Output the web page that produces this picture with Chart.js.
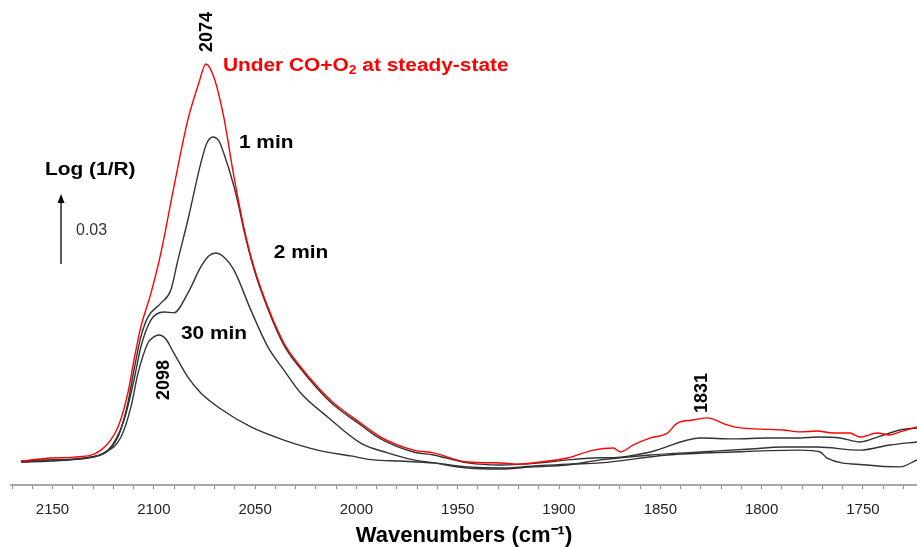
<!DOCTYPE html>
<html>
<head>
<meta charset="utf-8">
<script src="https://cdn.jsdelivr.net/npm/chart.js@4"></script>
<style>
  html, body { margin: 0; padding: 0; background: #fff; }
  #wrap { width: 917px; height: 547px; }
</style>
</head>
<body>
<div id="wrap"><canvas id="grafico"></canvas></div>
<script>
// wavenumbers (cm-1) and Log(1/R), one pair of arrays per spectrum
const steadyWn = [2165.5, 2150.7, 2139.4, 2126.1, 2117.7, 2112.8, 2109.8, 2106.4, 2101.4, 2096.5, 2090.1, 2083.2, 2077.8, 2074.3, 2070.4, 2065.5, 2060.5, 2055.6, 2050.6, 2043.7, 2035.8, 2027.5, 2019.1, 2011.2, 1997.9, 1988.0, 1971.8, 1961.9, 1945.1, 1928.9, 1920.5, 1909.1, 1895.8, 1883.0, 1873.2, 1869.7, 1863.3, 1854.9, 1846.5, 1841.6, 1833.7, 1826.8, 1817.0, 1810.6, 1800.7, 1789.4, 1781.0, 1772.6, 1764.7, 1756.4, 1751.4, 1743.0, 1736.6, 1731.7, 1723.3];
const steadyAbs = [0.0004, 0.0017, 0.0021, 0.0051, 0.0150, 0.0296, 0.0437, 0.0579, 0.0724, 0.0896, 0.1179, 0.1466, 0.1624, 0.1706, 0.1650, 0.1479, 0.1225, 0.1007, 0.0836, 0.0664, 0.0510, 0.0407, 0.0321, 0.0253, 0.0167, 0.0107, 0.0051, 0.0039, 0.0000, -0.0004, -0.0009, 0.0000, 0.0017, 0.0051, 0.0060, 0.0043, 0.0073, 0.0103, 0.0124, 0.0167, 0.0180, 0.0189, 0.0159, 0.0146, 0.0141, 0.0137, 0.0129, 0.0133, 0.0124, 0.0124, 0.0107, 0.0124, 0.0116, 0.0129, 0.0150];

const min1Wn = [2165.5, 2150.7, 2131.0, 2117.7, 2112.8, 2109.8, 2106.4, 2102.9, 2096.5, 2091.6, 2088.1, 2083.2, 2076.8, 2073.8, 2070.9, 2067.9, 2065.5, 2060.5, 2058.0, 2055.6, 2050.6, 2043.7, 2035.8, 2027.5, 2019.1, 2011.2, 1997.9, 1988.0, 1971.8, 1961.9, 1945.1, 1928.9, 1909.1, 1895.8, 1883.0, 1869.7, 1854.9, 1830.2, 1813.9, 1797.2, 1781.0, 1772.6, 1761.2, 1751.4, 1741.5, 1731.7, 1723.3];
const min1Abs = [0.0004, 0.0009, 0.0021, 0.0107, 0.0253, 0.0394, 0.0536, 0.0621, 0.0681, 0.0737, 0.0866, 0.1037, 0.1281, 0.1367, 0.1393, 0.1376, 0.1324, 0.1183, 0.1093, 0.0995, 0.0827, 0.0656, 0.0501, 0.0399, 0.0313, 0.0244, 0.0159, 0.0099, 0.0043, 0.0030, -0.0004, -0.0013, -0.0004, 0.0009, 0.0017, 0.0021, 0.0043, 0.0103, 0.0099, 0.0103, 0.0103, 0.0107, 0.0103, 0.0086, 0.0111, 0.0137, 0.0146];

const min2Wn = [2165.5, 2150.7, 2134.5, 2122.6, 2114.7, 2109.8, 2106.4, 2101.4, 2095.0, 2090.1, 2083.2, 2076.8, 2072.9, 2069.4, 2066.0, 2060.5, 2052.1, 2043.7, 2035.8, 2027.5, 2014.2, 1997.9, 1984.6, 1971.8, 1961.9, 1945.1, 1928.9, 1912.5, 1895.8, 1879.5, 1854.9, 1830.2, 1805.6, 1789.4, 1772.6, 1751.4, 1736.6, 1723.3];
const min2Abs = [0.0000, 0.0004, 0.0017, 0.0051, 0.0180, 0.0351, 0.0493, 0.0609, 0.0643, 0.0639, 0.0724, 0.0836, 0.0883, 0.0896, 0.0883, 0.0823, 0.0651, 0.0493, 0.0394, 0.0296, 0.0193, 0.0081, 0.0039, 0.0009, -0.0004, -0.0026, -0.0030, -0.0021, -0.0013, 0.0009, 0.0030, 0.0043, 0.0056, 0.0064, 0.0064, 0.0051, 0.0073, 0.0086];

const min30Wn = [2165.5, 2150.7, 2135.9, 2124.6, 2116.2, 2111.3, 2107.8, 2102.9, 2100.0, 2097.5, 2094.1, 2090.1, 2083.2, 2076.8, 2066.9, 2052.1, 2035.8, 2019.1, 2002.8, 1991.5, 1978.2, 1961.9, 1945.1, 1928.9, 1912.5, 1895.8, 1879.5, 1846.5, 1813.9, 1781.0, 1771.1, 1767.7, 1748.0, 1731.7, 1723.3];
const min30Abs = [0.0000, 0.0009, 0.0013, 0.0039, 0.0107, 0.0236, 0.0381, 0.0510, 0.0536, 0.0544, 0.0527, 0.0467, 0.0364, 0.0296, 0.0227, 0.0150, 0.0094, 0.0051, 0.0026, 0.0009, 0.0004, -0.0004, -0.0021, -0.0026, -0.0017, -0.0009, -0.0004, 0.0030, 0.0043, 0.0051, 0.0043, 0.0017, -0.0013, -0.0021, 0.0009];

// axis
const wnMin = 1723.3;
const wnMax = 2170.5;
const wnStep = 10;
const wnLabelEvery = 50;
const absMin = -0.00986;
const absMax = 0.198;

// labels put on the plot, placed in data units
const notes = [
  { parts: [{ t: '2074' }], wn: 2074.3, abs: 0.1843, rot: true, color: '#000' },
  { parts: [{ t: 'Under CO+O' }, { t: '2', sub: true }, { t: ' at steady-state' }], wn: 2065.9, abs: 0.1697, color: '#ff0000' },
  { parts: [{ t: '1 min' }], wn: 2058.0, abs: 0.1367, color: '#000' },
  { parts: [{ t: '2 min' }], wn: 2040.8, abs: 0.0896, color: '#000' },
  { parts: [{ t: '30 min' }], wn: 2086.6, abs: 0.0549, color: '#000' },
  { parts: [{ t: '2098' }], wn: 2095.5, abs: 0.0351, rot: true, color: '#000' },
  { parts: [{ t: '1831' }], wn: 1829.7, abs: 0.0296, rot: true, color: '#000' },
  { parts: [{ t: 'Log (1/R)' }], wn: 2153.7, abs: 0.1251, color: '#000' }
];
const scaleBar = { wn: 2145.8, abs: 0.0849, size: 0.03, label: '0.03', labelWn: 2138.4 };

const zip = (xs, ys) => xs.map((x, i) => ({ x: x, y: ys[i] }));

const notesPlugin = {
  id: 'notes',
  afterDatasetsDraw(chart) {
    const c = chart.ctx;
    const xs = chart.scales.x;
    const ys = chart.scales.y;
    c.save();
    notes.forEach(n => {
      const px = xs.getPixelForValue(n.wn);
      const py = ys.getPixelForValue(n.abs);
      c.fillStyle = n.color;
      c.textBaseline = 'middle';
      if (n.rot) {
        c.save();
        c.translate(px, py);
        c.rotate(-Math.PI / 2);
        c.font = 'bold 18px "Liberation Sans", Arial, sans-serif';
        c.textAlign = 'center';
        c.fillText(n.parts[0].t, 0, 1);
        c.restore();
        return;
      }
      c.save();
      c.translate(px, py);
      c.scale(1.16, 1);
      c.textAlign = 'left';
      let cx = 0;
      n.parts.forEach(p => {
        c.font = p.sub ? 'bold 12px "Liberation Sans", Arial, sans-serif' : 'bold 18px "Liberation Sans", Arial, sans-serif';
        c.fillText(p.t, cx, p.sub ? 5 : 0);
        cx += c.measureText(p.t).width;
      });
      c.restore();
    });

    // 0.03 scale arrow
    const ax = xs.getPixelForValue(scaleBar.wn);
    const ay0 = ys.getPixelForValue(scaleBar.abs);
    const ay1 = ys.getPixelForValue(scaleBar.abs + scaleBar.size);
    c.strokeStyle = '#000';
    c.fillStyle = '#000';
    c.lineWidth = 1.3;
    c.beginPath();
    c.moveTo(ax, ay0);
    c.lineTo(ax, ay1 + 6);
    c.stroke();
    c.beginPath();
    c.moveTo(ax, ay1);
    c.lineTo(ax - 3.5, ay1 + 9);
    c.lineTo(ax + 3.5, ay1 + 9);
    c.closePath();
    c.fill();
    c.fillStyle = '#333';
    c.font = '16px "Liberation Sans", Arial, sans-serif';
    c.textAlign = 'left';
    c.textBaseline = 'middle';
    c.fillText(scaleBar.label, xs.getPixelForValue(scaleBar.labelWn), (ay0 + ay1) / 2 + 2);
    c.restore();
  }
};

const lineStyle = { pointRadius: 0, borderWidth: 1.4, tension: 0.35, cubicInterpolationMode: 'monotone', fill: false };

const config = {
  type: 'line',
  data: {
    datasets: [
      Object.assign({ label: 'Under CO+O2 at steady-state', data: zip(steadyWn, steadyAbs), borderColor: '#ff0000' }, lineStyle),
      Object.assign({ label: '1 min', data: zip(min1Wn, min1Abs), borderColor: '#333333' }, lineStyle),
      Object.assign({ label: '2 min', data: zip(min2Wn, min2Abs), borderColor: '#333333' }, lineStyle),
      Object.assign({ label: '30 min', data: zip(min30Wn, min30Abs), borderColor: '#333333' }, lineStyle)
    ]
  },
  options: {
    responsive: true,
    maintainAspectRatio: false,
    animation: false,
    layout: { padding: { left: 10, right: 0, top: 0, bottom: 0 } },
    plugins: {
      legend: { display: false },
      tooltip: { enabled: false }
    },
    scales: {
      x: {
        type: 'linear',
        reverse: true,
        min: wnMin,
        max: wnMax,
        grid: { drawOnChartArea: false, drawTicks: true, tickLength: 4, color: '#888' },
        border: { display: true, color: '#a8a8a8', width: 2 },
        ticks: {
          stepSize: wnStep,
          includeBounds: false,
          autoSkip: false,
          maxRotation: 0,
          padding: 12,
          color: '#222',
          font: { family: '"Liberation Sans", Arial, sans-serif', size: 15 },
          callback: (v) => (Math.round(v) % wnLabelEvery === 0 ? String(Math.round(v)) : '')
        },
        title: {
          display: true,
          text: 'Wavenumbers (cm\u207B\u00B9)',
          color: '#000',
          font: { family: '"Liberation Sans", Arial, sans-serif', size: 22, weight: 'bold', lineHeight: 1 },
          padding: { top: -6, bottom: 0 }
        }
      },
      y: {
        display: false,
        min: absMin,
        max: absMax
      }
    }
  },
  plugins: [notesPlugin]
};

const ctx = document.getElementById('grafico').getContext('2d');
new Chart(ctx, config);
</script>
</body>
</html>
